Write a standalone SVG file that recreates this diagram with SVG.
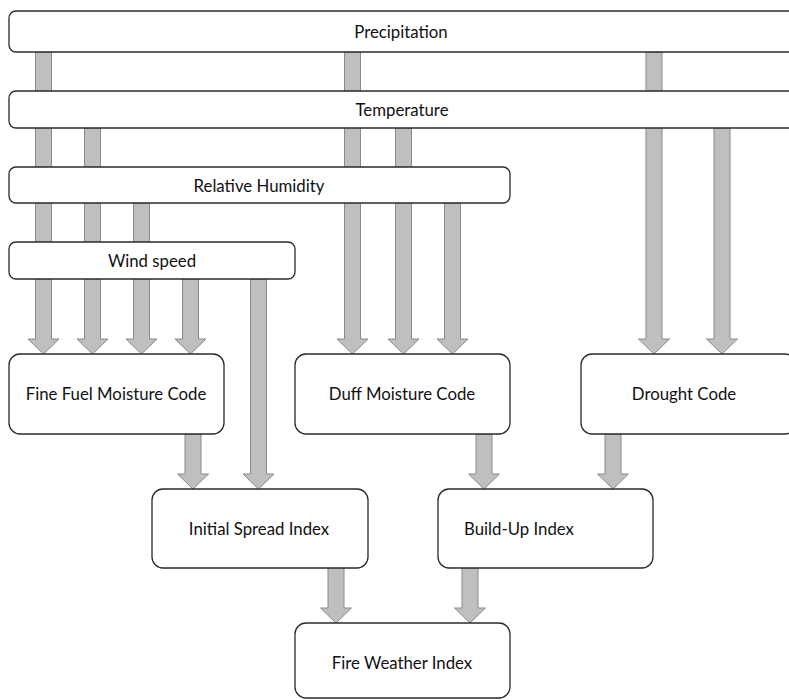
<svg xmlns="http://www.w3.org/2000/svg" width="789" height="700" viewBox="0 0 789 700">
<style>
.bar{fill:#fff;stroke:#2a2a2a;stroke-width:1.3}
.box{fill:#fff;stroke:#2a2a2a;stroke-width:1.3}
.arr{fill:#bfbfbf;stroke:#8a8a8a;stroke-width:1}
text{font-family:Lato,"Open Sans","Liberation Sans",sans-serif;font-size:16.8px;fill:#111;text-anchor:middle;dominant-baseline:central}
</style>
<rect width="789" height="700" fill="#fff"/>
<g id="connectors">
<path class="arr" d="M35.5,52 H51.5 V339 H59 L43.5,354 L28,339 H35.5 Z"/>
<path class="arr" d="M84.5,128 H100.5 V339 H108 L92.5,354 L77,339 H84.5 Z"/>
<path class="arr" d="M133.5,203 H149.5 V339 H157 L141.5,354 L126,339 H133.5 Z"/>
<path class="arr" d="M182.5,279 H198.5 V339 H206 L190.5,354 L175,339 H182.5 Z"/>
<path class="arr" d="M250.5,279 H266.5 V474 H274 L258.5,489 L243,474 H250.5 Z"/>
<path class="arr" d="M344.5,52 H360.5 V339 H368 L352.5,354 L337,339 H344.5 Z"/>
<path class="arr" d="M395.5,128 H411.5 V339 H419 L403.5,354 L388,339 H395.5 Z"/>
<path class="arr" d="M444.5,203 H460.5 V339 H468 L452.5,354 L437,339 H444.5 Z"/>
<path class="arr" d="M646,52 H662 V339 H669.5 L654,354 L638.5,339 H646 Z"/>
<path class="arr" d="M714,128 H730 V339 H737.5 L722,354 L706.5,339 H714 Z"/>
<path class="arr" d="M185,434 H201 V474 H208.5 L193,489 L177.5,474 H185 Z"/>
<path class="arr" d="M476,434 H492 V474 H499.5 L484,489 L468.5,474 H476 Z"/>
<path class="arr" d="M605,434 H621 V474 H628.5 L613,489 L597.5,474 H605 Z"/>
<path class="arr" d="M328,568 H344 V608 H351.5 L336,623 L320.5,608 H328 Z"/>
<path class="arr" d="M462,568 H478 V608 H485.5 L470,623 L454.5,608 H462 Z"/>
</g>
<g id="precipitation"><rect class="bar" x="9" y="11" width="800" height="41" rx="7"/><text x="401" y="31">Precipitation</text></g>
<g id="temperature"><rect class="bar" x="9" y="91" width="800" height="37" rx="7"/><text x="402" y="109">Temperature</text></g>
<g id="humidity"><rect class="bar" x="9" y="167" width="501" height="36" rx="7"/><text x="259" y="185">Relative Humidity</text></g>
<g id="wind"><rect class="bar" x="9" y="242" width="286" height="37" rx="7"/><text x="152" y="260">Wind speed</text></g>
<g id="ffmc"><rect class="box" x="9" y="354" width="215" height="80" rx="11"/><text x="116" y="393">Fine Fuel Moisture Code</text></g>
<g id="dmc"><rect class="box" x="295" y="354" width="215" height="80" rx="11"/><text x="402" y="393">Duff Moisture Code</text></g>
<g id="dc"><rect class="box" x="581" y="354" width="215" height="80" rx="11"/><text x="684" y="393">Drought Code</text></g>
<g id="isi"><rect class="box" x="152" y="489" width="216" height="79" rx="11"/><text x="259" y="528">Initial Spread Index</text></g>
<g id="bui"><rect class="box" x="438" y="489" width="215" height="79" rx="11"/><text x="519" y="528">Build-Up Index</text></g>
<g id="fwi"><rect class="box" x="295" y="623" width="215" height="75" rx="11"/><text x="402" y="662">Fire Weather Index</text></g>
</svg>
